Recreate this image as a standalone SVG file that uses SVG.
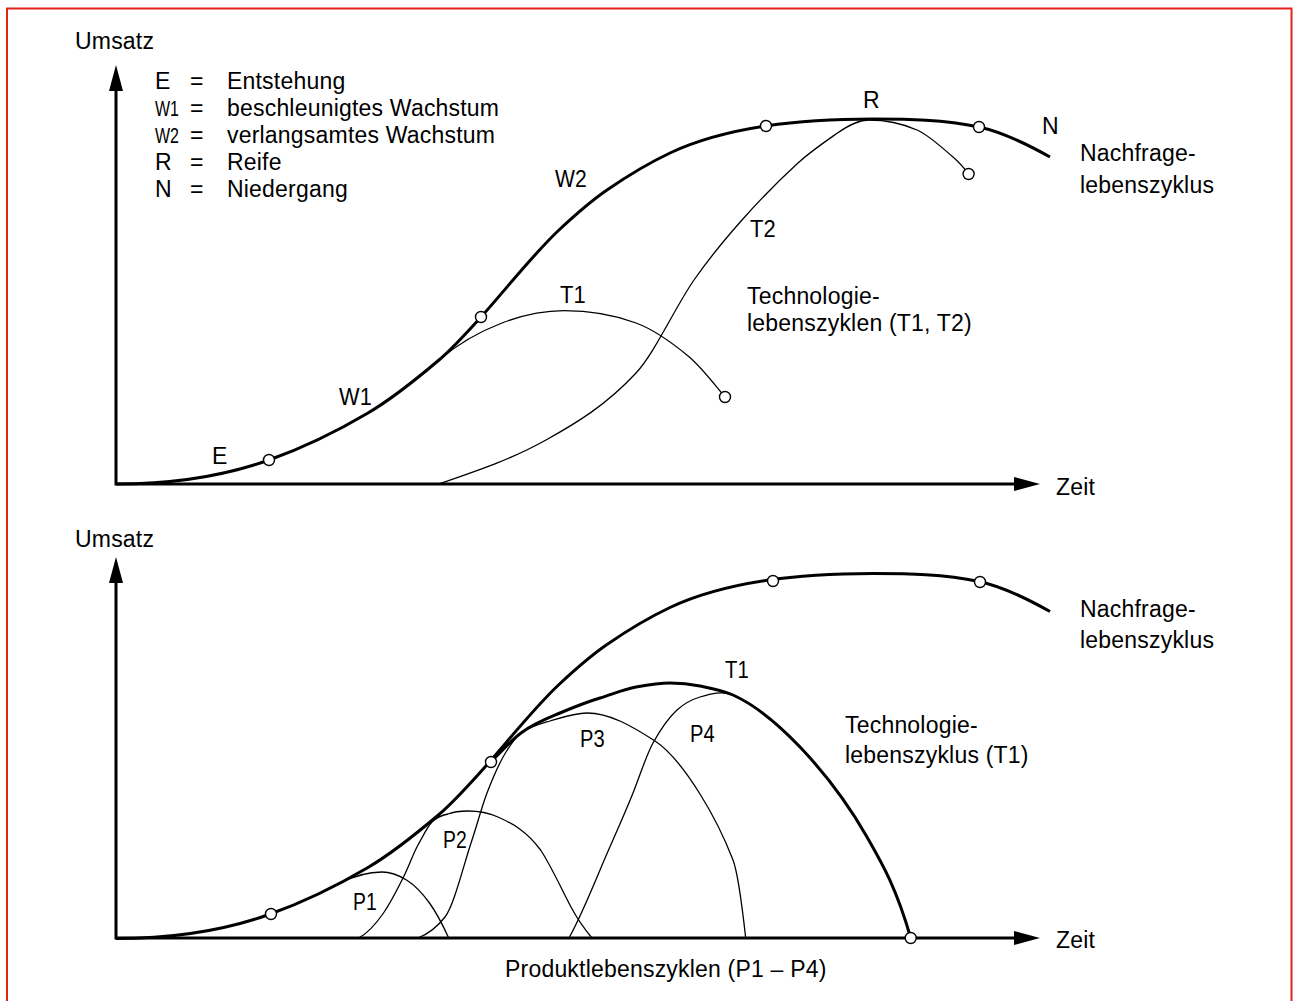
<svg xmlns="http://www.w3.org/2000/svg" width="1293" height="1001" viewBox="0 0 1293 1001">
<style>
.ax{stroke:#000;stroke-width:3;fill:none}
.thick{stroke:#000;stroke-width:3;fill:none;stroke-linecap:butt}
.thin{stroke:#000;stroke-width:1.3;fill:none}
.pt{fill:#fff;stroke:#000;stroke-width:1.4}
text{font-family:"Liberation Sans",Arial,sans-serif;font-size:23px;fill:#000;letter-spacing:0.2px}
.lg{font-size:22px;letter-spacing:0}
</style>
<defs>
<marker id="ah" markerUnits="userSpaceOnUse" viewBox="0 0 28 16" markerWidth="28" markerHeight="16" refX="2" refY="8" orient="auto-start-reverse">
<path d="M0,1 L26,8 L0,15 Z" fill="#000"/>
</marker>
<path id="nach" d="M116,484 C167,484 218,478.2 269,460 C302,448.3 335,432.5 368,413 C391.7,399 415.3,380.1 439,360 C453,348.1 467,332.5 481,317 C507,288.1 533,254.4 559,230 C575,215 591,201 607,190 C628,175.5 649,162.9 670,153 C702,138 734,130.8 766,126 C801.7,120.6 837.3,119 873,119 C908.3,119 943.7,119.4 979,127 C1002.7,132.1 1026.3,143.7 1050,157"/>
</defs>
<rect width="1293" height="1001" fill="#fff"/>
<path id="frame" d="M7,1001 V8.5 H1291.5 V1001" fill="none" stroke="#e2231a" stroke-width="2"/>

<g id="connectors">
<path class="ax" d="M116,89 V484 H1016" marker-start="url(#ah)" marker-end="url(#ah)"/>
<path class="ax" d="M116,581 V938 H1016" marker-start="url(#ah)" marker-end="url(#ah)"/>
</g>

<g id="top-chart">
<g id="top-nachfrage"><use href="#nach" class="thick"/></g>
<g id="top-t1"><path class="thin" d="M368,413 C391.7,399 415.3,380.1 439,360 C460,342.1 481,331 502,323 C522.7,315.1 543.3,310.7 564,310.7 C588,310.7 612,314.1 636,323 C653.7,329.5 671.3,342 689,356.7 C701,366.7 713,382.6 725,397"/></g>
<g id="top-t2"><path class="thin" d="M439,484 C474.7,471.5 510.3,460 546,440 C576,423.2 606,405.4 636,373 C655.3,352.1 674.7,307.8 694,280 C710,257 726,238 742,220 C760.7,199 779.3,180 798,163 C811.2,151 824.3,142.2 837.5,133 C848,125.65 858.5,120 869,120 C885,120 901,123 917,130 C929,135.3 941,146.8 953,157 C958.2,161.4 963.4,167.2 968.6,174"/></g>
<g id="top-points">
<circle class="pt" cx="269" cy="460" r="5.5"/>
<circle class="pt" cx="481" cy="317" r="5.5"/>
<circle class="pt" cx="766" cy="126" r="5.5"/>
<circle class="pt" cx="979" cy="127" r="5.5"/>
<circle class="pt" cx="725" cy="397" r="5.5"/>
<circle class="pt" cx="968.6" cy="174" r="5.5"/>
</g>
<g id="top-labels">
<text x="75" y="49">Umsatz</text>
<g id="legend">
<text x="155" y="89">E</text><text x="190" y="89">=</text><text x="227" y="89">Entstehung</text>
<text class="lg" x="155" y="116" textLength="24" lengthAdjust="spacingAndGlyphs">W1</text><text x="190" y="116">=</text><text x="227" y="116">beschleunigtes Wachstum</text>
<text class="lg" x="155" y="143" textLength="24" lengthAdjust="spacingAndGlyphs">W2</text><text x="190" y="143">=</text><text x="227" y="143">verlangsamtes Wachstum</text>
<text x="155" y="170">R</text><text x="190" y="170">=</text><text x="227" y="170">Reife</text>
<text x="155" y="197">N</text><text x="190" y="197">=</text><text x="227" y="197">Niedergang</text>
</g>
<text x="212" y="464">E</text>
<text x="339" y="405" textLength="33" lengthAdjust="spacingAndGlyphs">W1</text>
<text x="555" y="187" textLength="32" lengthAdjust="spacingAndGlyphs">W2</text>
<text x="560" y="303" textLength="26" lengthAdjust="spacingAndGlyphs">T1</text>
<text x="750" y="237" textLength="26" lengthAdjust="spacingAndGlyphs">T2</text>
<text x="863" y="108">R</text>
<text x="1042" y="134">N</text>
<text x="1080" y="161">Nachfrage-</text>
<text x="1080" y="193">lebenszyklus</text>
<text x="747" y="304">Technologie-</text>
<text x="747" y="331">lebenszyklen (T1, T2)</text>
<text x="1056" y="495">Zeit</text>
</g>
</g>

<g id="bottom-chart">
<g id="bottom-nachfrage"><use href="#nach" class="thick" transform="translate(0,454.5)"/></g>
<g id="bottom-t1"><path class="thick" d="M491,762 C501,751.5 511,740.5 521,733 C534,723.25 547,718.46 560,713 C573.33,707.4 586.67,702 600,698 C612,694.4 624,689.16 636,687 C647.33,684.96 658.67,683 670,683 C680,683 690,684 700,686 C711,688.2 722,690.05 733,695 C755.33,705.05 777.67,723.55 800,747 C822.33,770.45 844.67,797.92 867,837 C881.57,862.5 896.13,887 910.7,938"/></g>
<g id="p1"><path class="thin" d="M340,883 C354,876 368,872 382,872 C390.17,872 398.33,874.94 406.5,880 C414.17,884.75 421.83,892.5 429.5,903 C435.9,911.8 442.3,924 448.7,938"/></g>
<g id="p2"><path class="thin" d="M358.6,938 C366.9,933.85 375.2,925 383.5,913 C390.3,903.1 397.2,889.7 404,876 C408.7,866.7 413.3,853.4 418,845 C422.7,836.6 427.3,826.7 432,822 C437.3,816.7 442.7,815.1 448,814 C454.7,811.3 461.3,811 468,811 C478,811 488,812.5 498,817 C512.2,823.4 526.4,830.7 540.6,850 C550.7,865.2 560.9,887.75 571,907 C578,920.3 585,929.6 592,938"/></g>
<g id="p3"><path class="thin" d="M418,938 C427,934.4 436,928.7 445,917 C454,905.3 463,867 472,840 C477,825 482,806 487,793 C493.33,776.53 499.67,762.13 506,752 C511,744 516,736.5 521,733 C530.67,726.23 540.33,723.9 550,721 C562.33,717.3 574.67,713 587,713 C609.67,713 632.33,726.27 655,741 C670,750.75 685,770 700,794 C711,811.6 722,831.4 733,860 C737.23,871 741.47,900 745.7,938"/></g>
<g id="p4"><path class="thin" d="M569,938 C579.33,919.4 589.67,894.8 600,870 C611,843.6 622,820.5 633,793 C639.67,776.33 646.33,755 653,743 C661,728.6 669,717.2 677,710 C684.67,703.1 692.33,699.3 700,697 C711,693.7 722,690.6 733,695"/></g>
<g id="bottom-points">
<circle class="pt" cx="271" cy="914" r="5.5"/>
<circle class="pt" cx="491" cy="762" r="5.5"/>
<circle class="pt" cx="773" cy="581" r="5.5"/>
<circle class="pt" cx="980" cy="582" r="5.5"/>
<circle class="pt" cx="910.7" cy="938" r="5.5"/>
</g>
<g id="bottom-labels">
<text x="75" y="547">Umsatz</text>
<text x="353" y="910" textLength="24" lengthAdjust="spacingAndGlyphs">P1</text>
<text x="443" y="848" textLength="24" lengthAdjust="spacingAndGlyphs">P2</text>
<text x="580" y="747" textLength="25" lengthAdjust="spacingAndGlyphs">P3</text>
<text x="690" y="742" textLength="25" lengthAdjust="spacingAndGlyphs">P4</text>
<text x="725" y="678" textLength="24" lengthAdjust="spacingAndGlyphs">T1</text>
<text x="1080" y="617">Nachfrage-</text>
<text x="1080" y="648">lebenszyklus</text>
<text x="845" y="733">Technologie-</text>
<text x="845" y="763">lebenszyklus (T1)</text>
<text x="1056" y="948">Zeit</text>
<text x="505" y="977">Produktlebenszyklen (P1 – P4)</text>
</g>
</g>
</svg>
